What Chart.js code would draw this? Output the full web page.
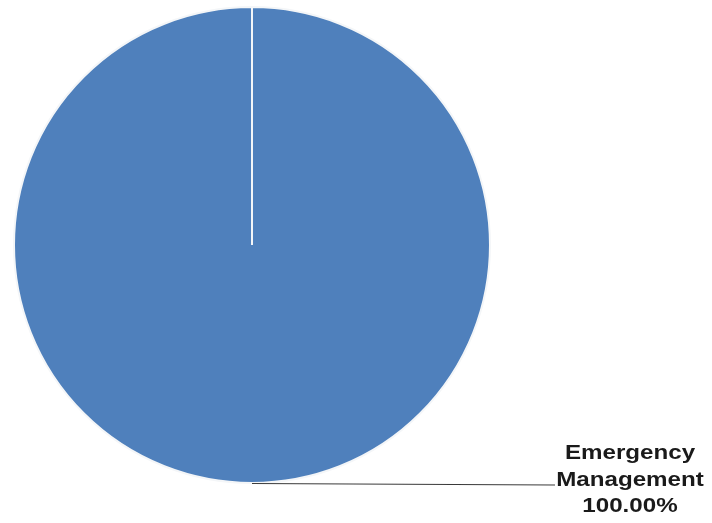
<!DOCTYPE html>
<html>
<head>
<meta charset="utf-8">
<script src="https://cdn.jsdelivr.net/npm/chart.js@4/dist/chart.umd.min.js"></script>
<style>
html,body{margin:0;padding:0;background:#fff;}
#wrap{width:712px;height:523px;position:relative;}
</style>
</head>
<body>
<div id="wrap"><canvas id="c" width="712" height="523"></canvas></div>
<script>
const categories = ["Emergency Management"];
const labelLines = [["Emergency", "Management"]];
const values = [100];
const percentLabels = ["100.00%"];

const labelPlugin = {
  id: 'leaderLabel',
  afterDatasetsDraw(chart) {
    const ctx = chart.ctx;
    const meta = chart.getDatasetMeta(0);
    meta.data.forEach((arc, i) => {
      const cx = arc.x, cy = arc.y, r = arc.outerRadius;
      const sx = cx, sy = cy + r;
      const lines = labelLines[i].concat([percentLabels[i]]);
      const tx = 630, ty0 = 459, lh = 26.5;
      ctx.save();
      ctx.strokeStyle = '#3a3a3a';
      ctx.lineWidth = 1.2;
      ctx.beginPath();
      ctx.moveTo(sx, sy + 0.5);
      ctx.lineTo(555, 485);
      ctx.stroke();
      ctx.fillStyle = '#1a1a1a';
      ctx.font = 'bold 21px "Liberation Sans", Arial, sans-serif';
      ctx.textAlign = 'center';
      ctx.textBaseline = 'alphabetic';
      lines.forEach((t, k) => {
        ctx.save();
        ctx.translate(tx, ty0 + k * lh);
        ctx.scale(1.15, 1);
        ctx.fillText(t, 0, 0);
        ctx.restore();
      });
      ctx.restore();
    });
  }
};

new Chart(document.getElementById('c'), {
  type: 'pie',
  data: {
    labels: categories,
    datasets: [{
      data: values,
      backgroundColor: ['#4f80bc'],
      borderColor: '#f4f6f8',
      borderWidth: 2
    }]
  },
  options: {
    responsive: false,
    animation: false,
    layout: { padding: { left: 13, top: 5, right: 221, bottom: 38 } },
    plugins: {
      legend: { display: false },
      tooltip: { enabled: false },
      title: { display: false }
    }
  },
  plugins: [labelPlugin]
});
</script>
</body>
</html>
